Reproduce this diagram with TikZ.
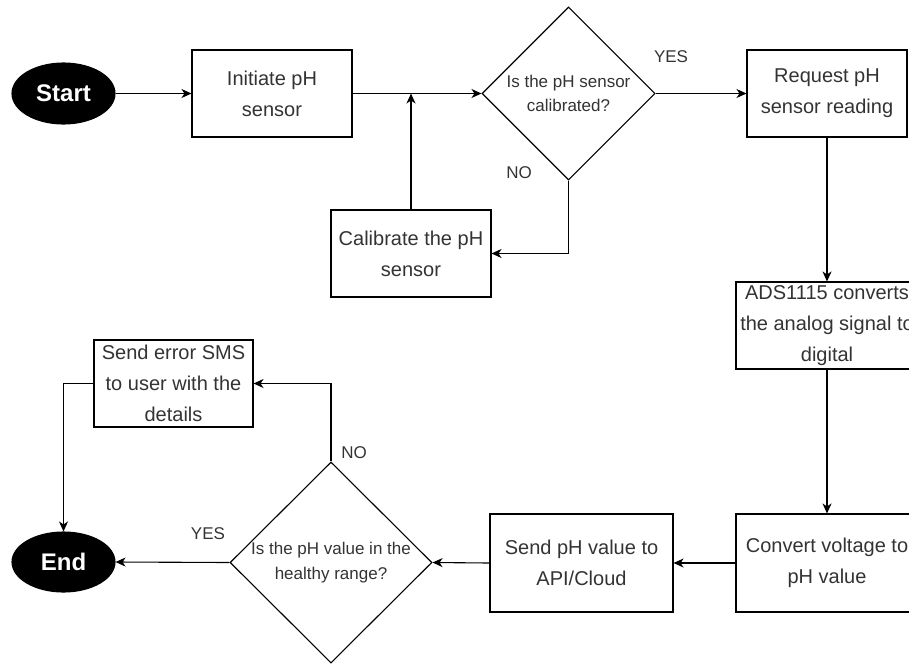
\documentclass[tikz,border=0pt]{standalone}
\usepackage{fontspec}
\setmainfont{Liberation Sans}
\usetikzlibrary{shapes.geometric,arrows.meta}
\definecolor{ink}{HTML}{333333}
\begin{document}
\begin{tikzpicture}[x=1pt,y=-1pt,
  base/.style={draw=black, line width=1.1pt, inner sep=0pt, text=ink},
  term/.style={base, ellipse, fill=black, text=white,
    minimum width=103pt, minimum height=61pt,
    font=\fontsize{24}{28}\selectfont\bfseries},
  proc/.style={base, rectangle, align=center,
    font=\fontsize{20}{31}\selectfont},
  decision/.style={base, diamond},
  dtext/.style={align=center, text=ink, inner sep=0pt,
    font=\fontsize{17}{24.5}\selectfont},
  tag/.style={text=ink, inner sep=0pt, font=\fontsize{17}{20}\selectfont},
  flow/.style={draw=black, line width=1.1pt,
    -{Stealth[length=10pt,width=9pt,inset=3pt]}}]
\useasboundingbox (0,0) rectangle (909,664);
\clip (0,0) rectangle (909,664);

% terminals
\node[term] (start) at (63.5,93.5) {Start};
\node[term, minimum height=60pt] (end) at (63.5,562) {End};

% process steps
\node[proc, minimum width=160pt, minimum height=87pt] (init) at (272,93.5) {Initiate pH\\sensor};
\node[proc, minimum width=160pt, minimum height=87pt] (calib) at (411,253.5) {Calibrate the pH\\sensor};
\node[proc, minimum width=160pt, minimum height=87pt] (req) at (827,93.5) {Request pH\\sensor reading};
\node[proc, minimum width=182pt, minimum height=87pt] (ads) at (827,325.5) {ADS1115 converts\\the analog signal to\\digital};
\node[proc, minimum width=182pt, minimum height=98pt] (conv) at (827,563) {Convert voltage to\\pH value};
\node[proc, minimum width=183pt, minimum height=98pt] (send) at (581.5,563) {Send pH value to\\API/Cloud};
\node[proc, minimum width=159pt, minimum height=87pt] (sms) at (173.5,383.5) {Send error SMS\\to user with the\\details};

% decisions
\node[decision, minimum width=173pt, minimum height=173pt] (d1) at (568.5,93.5) {};
\node[dtext] (d1t) at (d1.center) {Is the pH sensor\\calibrated?};
\node[decision, minimum width=202pt, minimum height=201pt] (d2) at (331,562.5) {};
\node[dtext] (d2t) at (d2.center) {Is the pH value in the\\healthy range?};

% connectors
\coordinate (join) at (calib.north |- init.east);
\draw[flow] (start) -- (init);
\draw[flow] (init.east) -- (d1.west);
\draw[flow] (calib.north) -- (join);
\draw[flow] (d1.east) -- (req.west);
\draw[flow] (d1.south) |- (calib.east);
\draw[flow] (req) -- (ads);
\draw[flow] (ads) -- (conv);
\draw[flow] (conv) -- (send);
\draw[flow] (send.west) -- (d2.east);
\draw[flow] (d2.west) -- (end.east);
\draw[flow] (d2.north) |- (sms.east);
\draw[flow] (sms.west) -| (end.north);

% branch labels
\node[tag] (yes1) at (671,57) {YES};
\node[tag] (no1) at (519,173) {NO};
\node[tag] (yes2) at (208,534) {YES};
\node[tag] (no2) at (354,453) {NO};
\end{tikzpicture}
\end{document}
